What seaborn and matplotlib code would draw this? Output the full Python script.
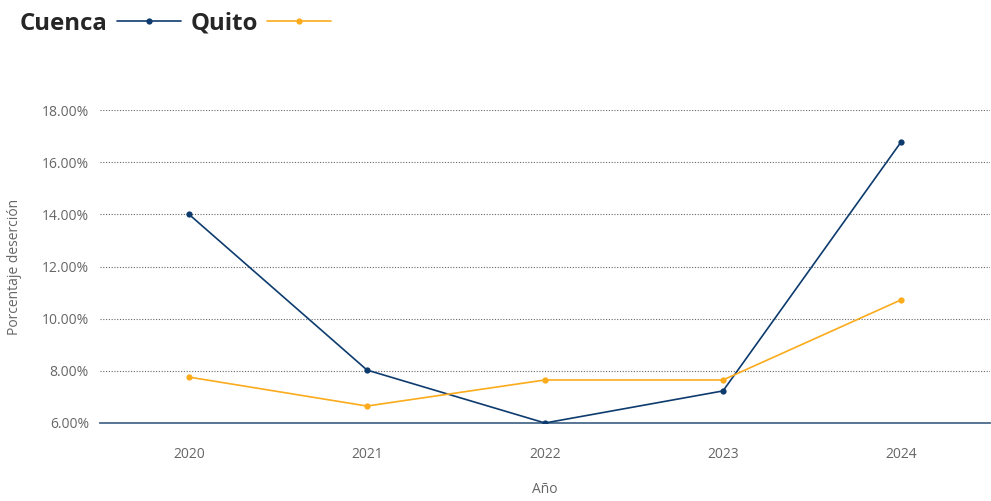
import matplotlib
matplotlib.use("Agg")
import matplotlib.pyplot as plt
from matplotlib.ticker import FuncFormatter
import pandas as pd
import seaborn as sns

years = ["2020", "2021", "2022", "2023", "2024"]
cuenca = [14.0, 8.03, 6.0, 7.23, 16.77]
quito = [7.76, 6.65, 7.65, 7.65, 10.72]
series_names = ["Cuenca", "Quito"]
colors = ["#0d3b6e", "#fbab1c"]
y_ticks = [6, 8, 10, 12, 14, 16, 18]

df = pd.DataFrame({
    "Año": years * 2,
    "valor": cuenca + quito,
    "Ciudad": [series_names[0]] * len(years) + [series_names[1]] * len(years),
})

sns.set_theme(style="white")
plt.rcParams["font.family"] = ["Open Sans", "DejaVu Sans"]

fig = plt.figure(figsize=(9.91, 5.01), dpi=100)
ax = fig.add_axes([100 / 991, (501 - 423) / 501, 890 / 991, (423 - 110) / 501])

sns.lineplot(data=df, x="Año", y="valor", hue="Ciudad", palette=colors,
             marker="o", markersize=4.5, markeredgewidth=0, linewidth=1.2,
             sort=False, ax=ax, legend=False)

ax.set_xlim(-0.5, len(years) - 0.5)
ax.set_ylim(6, 18)
ax.set_yticks(y_ticks)
ax.yaxis.set_major_formatter(FuncFormatter(lambda v, _: f"{v:.2f}%"))
ax.grid(axis="y", color="#666666", linestyle=(0, (1, 1.5)), linewidth=0.8)
ax.grid(axis="x", visible=False)
for s in ["top", "right", "left"]:
    ax.spines[s].set_visible(False)
ax.spines["bottom"].set_color("#4a6a8c")
ax.spines["bottom"].set_linewidth(1.3)
ax.spines["bottom"].set_zorder(1)
ax.tick_params(axis="both", length=0, labelsize=10, labelcolor="#666666")
ax.tick_params(axis="x", pad=17)
ax.tick_params(axis="y", pad=8)
ax.set_xlabel("Año", fontsize=10, color="#666666", labelpad=15)
ax.set_ylabel("Porcentaje deserción", fontsize=10, color="#666666", labelpad=14)

handles = [plt.Line2D([], [], color=c, marker="o", markersize=4.5,
                      markeredgewidth=0, linewidth=1.2) for c in colors]
fig.legend(handles, series_names, loc="upper left", bbox_to_anchor=(-0.002, 1.02),
           ncol=2, frameon=False, markerfirst=False, handlelength=2.65,
           handletextpad=0.4, columnspacing=0.4,
           prop={"family": "Open Sans", "weight": "bold", "size": 17.3})

fig.savefig("out.png", dpi=100)
